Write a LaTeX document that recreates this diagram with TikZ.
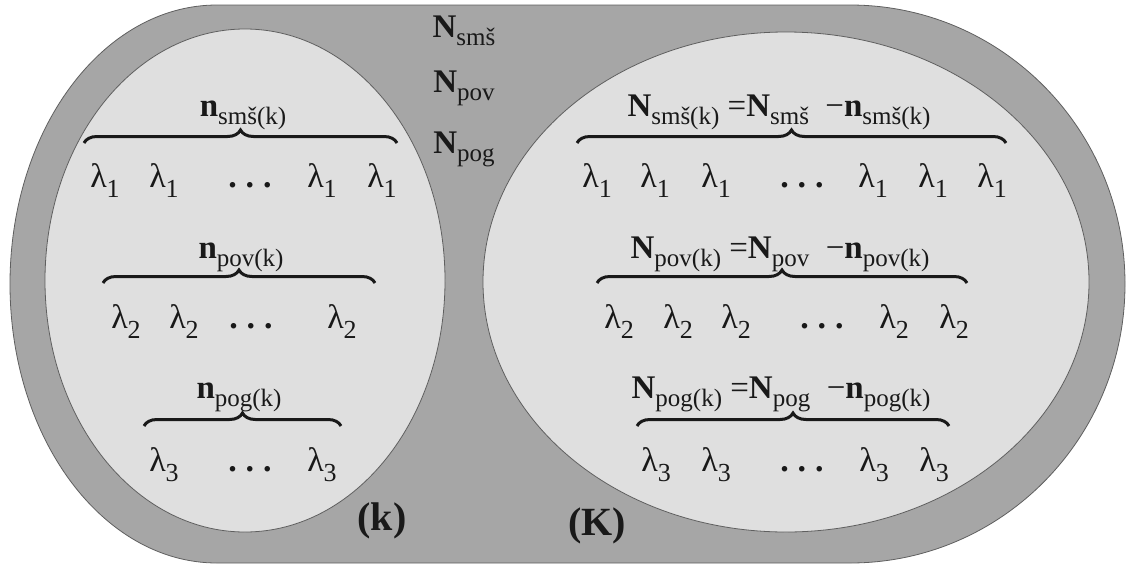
\documentclass[tikz,border=0pt]{standalone}
\usepackage{fontspec}
\setmainfont{Liberation Serif}
\usepackage{xcolor}
\usepackage{tikz}
\usetikzlibrary{decorations.pathreplacing}
\definecolor{outgray}{RGB}{166,166,166}
\definecolor{ingray}{RGB}{223,223,223}
\definecolor{rimgray}{RGB}{95,95,95}
\definecolor{inkcol}{RGB}{25,25,25}
\newcommand{\sbx}[1]{\raisebox{-8pt}{\fontsize{25}{25}\selectfont #1}}
\newcommand{\Nsub}[1]{\textbf{N}\sbx{#1}}
\newcommand{\nsub}[1]{\textbf{n}\sbx{#1}}
\newcommand{\lam}[1]{λ\raisebox{-10pt}{\fontsize{26}{26}\selectfont #1}}
\newcommand{\dotsrow}{\textbf{.}\hspace{9pt}\textbf{.}\hspace{9pt}\textbf{.}}

\begin{document}
\begin{tikzpicture}[x=1pt,y=-1pt,
  txt/.style={inner sep=0pt,anchor=base,text=inkcol,font=\fontsize{33}{36}\selectfont},
  lamtxt/.style={txt,font=\fontsize{34}{36}\selectfont},
  settxt/.style={txt,font=\fontsize{40}{42}\selectfont\bfseries},
  brc/.style={decorate,decoration={brace,amplitude=13pt,aspect=0.5},line width=3pt,inkcol}]
\useasboundingbox (0,0) rectangle (1126,568);
\filldraw[fill=outgray,draw=rimgray,line width=0.8pt] (217,5) -- (850,5)
  arc[start angle=-90,end angle=90,x radius=275,y radius=279] -- (217,563)
  arc[start angle=90,end angle=270,x radius=207,y radius=279] -- cycle;
\filldraw[fill=ingray,draw=rimgray,line width=0.8pt] (245,280.5) ellipse[x radius=200,y radius=251.5];
\filldraw[fill=ingray,draw=rimgray,line width=0.8pt] (786,282) ellipse[x radius=303,y radius=250];
\node[txt] (Nsms) at (464,37) {\Nsub{smš}};
\node[txt] (Npov) at (464,92) {\Nsub{pov}};
\node[txt] (Npog) at (464,153) {\Nsub{pog}};
\node[txt] (nsmsk) at (243,116) {\nsub{smš(k)}};
\draw[brc] (84,143) -- (397,143);
\node[lamtxt] (ka1) at (105,187) {\lam{1}};
\node[lamtxt] (ka2) at (164,187) {\lam{1}};
\node[lamtxt] (kad) at (250,187) {\dotsrow};
\node[lamtxt] (ka3) at (322,187) {\lam{1}};
\node[lamtxt] (ka4) at (382,187) {\lam{1}};
\node[txt] (npovk) at (241,258) {\nsub{pov(k)}};
\draw[brc] (103,283) -- (375,283);
\node[lamtxt] (kb1) at (126,328) {\lam{2}};
\node[lamtxt] (kb2) at (184,328) {\lam{2}};
\node[lamtxt] (kbd) at (251,328) {\dotsrow};
\node[lamtxt] (kb3) at (342,328) {\lam{2}};
\node[txt] (npogk) at (239,398) {\nsub{pog(k)}};
\draw[brc] (144,426) -- (341,426);
\node[lamtxt] (kc1) at (164,471) {\lam{3}};
\node[lamtxt] (kcd) at (250,471) {\dotsrow};
\node[lamtxt] (kc2) at (322,471) {\lam{3}};
\node[settxt] (setk) at (382,530) {(k)};
\node[txt] (Nsmsk) at (779,116) {\Nsub{smš(k)} =\Nsub{smš}\ \ −\nsub{smš(k)}};
\draw[brc] (577,143) -- (1006,143);
\node[lamtxt] (Ka1) at (597,187) {\lam{1}};
\node[lamtxt] (Ka2) at (655,187) {\lam{1}};
\node[lamtxt] (Ka3) at (716,187) {\lam{1}};
\node[lamtxt] (Kad) at (802,187) {\dotsrow};
\node[lamtxt] (Ka4) at (873,187) {\lam{1}};
\node[lamtxt] (Ka5) at (933,187) {\lam{1}};
\node[lamtxt] (Ka6) at (992,187) {\lam{1}};
\node[txt] (Npovk) at (780,258) {\Nsub{pov(k)} =\Nsub{pov}\ \ −\nsub{pov(k)}};
\draw[brc] (597,283) -- (967,283);
\node[lamtxt] (Kb1) at (619,328) {\lam{2}};
\node[lamtxt] (Kb2) at (678,328) {\lam{2}};
\node[lamtxt] (Kb3) at (736,328) {\lam{2}};
\node[lamtxt] (Kbd) at (822,328) {\dotsrow};
\node[lamtxt] (Kb4) at (894,328) {\lam{2}};
\node[lamtxt] (Kb5) at (954,328) {\lam{2}};
\node[txt] (Npogk) at (781,398) {\Nsub{pog(k)} =\Nsub{pog}\ \ −\nsub{pog(k)}};
\draw[brc] (637,426) -- (949,426);
\node[lamtxt] (Kc1) at (656,471) {\lam{3}};
\node[lamtxt] (Kc2) at (716,471) {\lam{3}};
\node[lamtxt] (Kcd) at (802,471) {\dotsrow};
\node[lamtxt] (Kc3) at (874,471) {\lam{3}};
\node[lamtxt] (Kc4) at (934,471) {\lam{3}};
\node[settxt] (setK) at (597,535) {(K)};
\end{tikzpicture}
\end{document}
